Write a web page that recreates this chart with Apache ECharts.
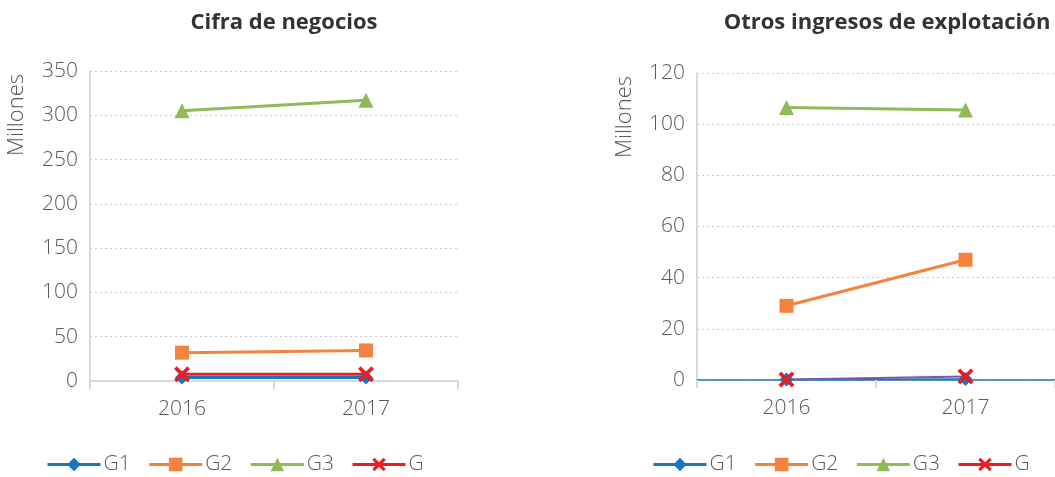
<!DOCTYPE html>
<html><head><meta charset="utf-8">
<script src="https://cdn.jsdelivr.net/npm/echarts@6/dist/echarts.min.js"></script>
<style>html,body{margin:0;padding:0;background:#fff}#c{width:1055px;height:477px}</style>
</head><body><div id="c"></div>
<script>
const categories = ['2016', '2017'];
const seriesNames = ['G1', 'G2', 'G3', 'G'];
// Cifra de negocios (Millones)
const cifraG1 = [4, 4];
const cifraG2 = [32, 34.5];
const cifraG3 = [305, 317];
const cifraG = [7.5, 7.5];
// Otros ingresos de explotación (Millones)
const otrosG1 = [0.2, 0.4];
const otrosG2 = [29, 47];
const otrosG3 = [106.5, 105.5];
const otrosG = [0.2, 1.4];
const titles = ['Cifra de negocios', 'Otros ingresos de explotación'];
const yName = 'Millones';

const colors = { G1: '#1a76ba', G2: '#f4833d', G3: '#8fba57', G: '#ec1c24' };
const xPath = 'path://M2,0 L6,4 L10,0 L12,2 L8,6 L12,10 L10,12 L6,8 L2,12 L0,10 L4,6 L0,2 Z';
const symbols = { G1: 'diamond', G2: 'rect', G3: 'triangle', G: xPath };
const symSize = { G1: 14, G2: 14, G3: 15, G: 16 };
const FONT = '"Open Sans"';
const txt = '#595959';

const dataSets = [
  { G1: cifraG1, G2: cifraG2, G3: cifraG3, G: cifraG },
  { G1: otrosG1, G2: otrosG2, G3: otrosG3, G: otrosG }
];

const chart = echarts.init(document.getElementById('c'));
const series = [];
dataSets.forEach((ds, gi) => {
  seriesNames.forEach(n => {
    let lc = colors[n];
    let lw = 3;
    if (gi === 1 && n === 'G') { lc = '#7b5aa6'; lw = 2; }
    if (gi === 1 && n === 'G1') { lw = 1.5; }
    series.push({
      name: n, type: 'line', xAxisIndex: gi, yAxisIndex: gi,
      data: ds[n], symbol: symbols[n], symbolSize: symSize[n],
      lineStyle: { width: lw, color: lc },
      itemStyle: { color: colors[n] },
      animation: false
    });
  });
});

const legendBase = {
  top: 454, itemWidth: 53, itemHeight: 17, itemGap: 17, padding: 0,
  data: seriesNames,
  lineStyle: { width: 3 },
  textStyle: { fontSize: 21, color: txt, fontFamily: FONT, fontWeight: 300, padding: [0, 0, 0, -2] }
};

chart.setOption({
  textStyle: { fontFamily: FONT },
  title: [
    { text: titles[0], left: 279, top: 7, textAlign: 'center',
      textStyle: { fontFamily: FONT, fontWeight: 'bold', fontSize: 22, color: '#333' } },
    { text: titles[1], left: 882, top: 7, textAlign: 'center',
      textStyle: { fontFamily: FONT, fontWeight: 'bold', fontSize: 22, color: '#333' } }
  ],
  graphic: [
    { type: 'text', x: 17, y: 115, rotation: Math.PI / 2,
      style: { text: yName, fontSize: 22, fill: txt, fontFamily: FONT, fontWeight: 300, align: 'center', verticalAlign: 'middle' } },
    { type: 'text', x: 625, y: 117, rotation: Math.PI / 2,
      style: { text: yName, fontSize: 22, fill: txt, fontFamily: FONT, fontWeight: 300, align: 'center', verticalAlign: 'middle' } }
  ],
  legend: [
    Object.assign({ left: 46 }, legendBase),
    Object.assign({ left: 652 }, legendBase)
  ],
  grid: [
    { left: 90, right: 597, top: 71, bottom: 96 },
    { left: 697, right: -11, top: 73, bottom: 97 }
  ],
  xAxis: [0, 1].map(i => ({
    type: 'category', gridIndex: i, data: categories, boundaryGap: true,
    axisLine: { lineStyle: { color: i === 0 ? '#d9d9d9' : '#1a76ba', width: i === 0 ? 2 : 1.5 } },
    axisTick: { show: true, length: 8, lineStyle: { color: '#d9d9d9', width: 2 } },
    axisLabel: { fontSize: 21, color: txt, margin: 18, fontFamily: FONT, fontWeight: 300 },
    splitLine: { show: false }
  })),
  yAxis: [
    { type: 'value', gridIndex: 0, min: 0, max: 350, interval: 50 },
    { type: 'value', gridIndex: 1, min: 0, max: 120, interval: 20 }
  ].map(a => Object.assign(a, {
    axisLine: { show: true, lineStyle: { color: '#d9d9d9', width: 2 } },
    axisTick: { show: false },
    axisLabel: { fontSize: 21, color: txt, margin: 12, fontFamily: FONT, fontWeight: 300 },
    splitLine: { show: true, lineStyle: { color: '#c9c9c9', type: [2, 3], width: 1 } }
  })),
  series: series
});
</script></body></html>
